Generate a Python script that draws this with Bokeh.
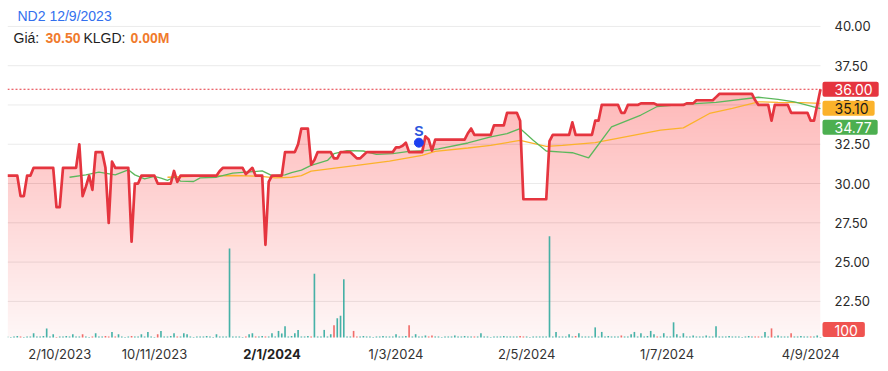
import numpy as np
from bokeh.plotting import figure
from bokeh.models import Range1d, Label
from bokeh.core.properties import value
from bokeh.embed import file_html
from bokeh.resources import INLINE

# ---------------- data ----------------
symbol = "ND2"
first_date = "12/9/2023"
first_price_text = "30.50"
first_volume_text = "0.00M"

# daily close, one value per trading day
price = [
    30.5, 30.5, 30.5, 30.5, 29.2, 29.2, 30.5, 30.5, 31.0, 31.0,
    31.0, 31.0, 31.0, 31.0, 31.0, 28.5, 28.5, 31.0, 31.0, 31.0,
    31.0, 31.0, 32.5, 29.2, 29.8, 30.5, 29.6, 32.0, 32.0, 32.0,
    31.0, 27.5, 31.4, 31.0, 31.0, 31.0, 31.0, 31.0, 26.3, 30.0,
    30.0, 30.5, 30.5, 30.5, 30.5, 30.5, 30.0, 30.0, 30.0, 30.0,
    30.0, 30.8, 30.1, 30.5, 30.5, 30.5, 30.5, 30.5, 30.5, 30.5,
    30.5, 30.5, 30.5, 30.5, 30.5, 30.8, 31.0, 31.0, 31.0, 31.0,
    31.0, 31.0, 31.0, 30.6, 30.8, 31.0, 30.5, 30.5, 30.5, 26.1,
    30.1, 30.5, 30.5, 30.5, 30.5, 32.0, 32.0, 32.0, 32.0, 32.5,
    33.5, 33.5, 33.5, 31.2, 31.5, 32.0, 32.0, 32.0, 32.0, 32.0,
    31.6, 31.6, 32.0, 32.0, 32.0, 32.0, 31.8, 31.6, 31.6, 31.8,
    32.0, 32.0, 32.0, 32.0, 32.0, 32.0, 32.0, 32.0, 32.0, 32.3,
    32.3, 32.4, 32.6, 32.0, 32.0, 32.0, 32.0, 32.0, 33.0, 32.8,
    32.1, 32.8, 32.8, 32.8, 32.8, 32.8, 32.8, 32.8, 32.8, 32.8,
    32.8, 33.2, 33.5, 33.1, 33.1, 33.1, 33.1, 33.1, 33.1, 33.7,
    33.7, 33.7, 33.7, 34.5, 34.5, 34.5, 34.5, 34.0, 29.0, 29.0,
    29.0, 29.0, 29.0, 29.0, 29.0, 29.0, 32.7, 33.1, 33.1, 33.1,
    33.1, 33.1, 33.1, 33.9, 33.1, 33.1, 33.1, 33.1, 33.1, 33.1,
    34.0, 34.0, 35.0, 35.0, 35.0, 35.0, 35.0, 35.0, 34.5, 34.5,
    35.0, 35.0, 35.0, 35.0, 35.1, 35.1, 35.1, 35.1, 35.1, 35.0,
    35.0, 35.0, 35.0, 35.0, 35.0, 35.0, 35.0, 35.0, 35.1, 35.1,
    35.1, 35.3, 35.3, 35.3, 35.3, 35.3, 35.3, 35.5, 35.7, 35.7,
    35.7, 35.7, 35.7, 35.7, 35.7, 35.7, 35.7, 35.7, 35.7, 35.3,
    35.0, 35.0, 35.0, 35.0, 34.0, 35.0, 35.0, 35.0, 35.0, 35.0,
    34.5, 34.5, 34.5, 34.5, 34.5, 34.5, 34.0, 34.0, 35.0, 36.0,
]

# daily volume (shares)
volume = [
    200, 100, 200, 300, 200, 100, 200, 200, 850, 200,
    200, 300, 1800, 200, 650, 100, 200, 200, 300, 200,
    650, 200, 200, 650, 200, 100, 200, 850, 200, 200,
    300, 200, 1100, 200, 650, 200, 100, 200, 300, 200,
    200, 650, 200, 1100, 200, 100, 650, 1300, 200, 200,
    300, 850, 200, 200, 850, 650, 200, 100, 200, 200,
    200, 300, 200, 100, 650, 200, 200, 200, 17600, 200,
    200, 200, 100, 200, 650, 850, 200, 200, 300, 200,
    200, 850, 200, 1300, 800, 2200, 200, 300, 850, 1500,
    200, 200, 300, 200, 12600, 200, 200, 1500, 200, 650,
    2400, 3800, 4300, 11500, 200, 200, 1300, 200, 200, 300,
    200, 200, 100, 200, 200, 300, 200, 200, 200, 650,
    200, 200, 300, 2400, 200, 650, 200, 200, 400, 200,
    400, 200, 200, 100, 200, 200, 200, 400, 200, 200,
    300, 200, 200, 200, 200, 850, 200, 200, 100, 200,
    200, 200, 300, 200, 200, 200, 200, 300, 200, 200,
    100, 200, 200, 200, 200, 200, 20000, 200, 1100, 200,
    200, 200, 650, 200, 300, 850, 200, 200, 200, 200,
    2000, 200, 1100, 200, 300, 200, 200, 200, 400, 200,
    200, 650, 1100, 200, 850, 200, 300, 1300, 650, 200,
    200, 850, 200, 200, 3000, 650, 200, 850, 200, 200,
    400, 200, 200, 200, 400, 200, 200, 2200, 200, 200,
    200, 300, 200, 200, 200, 100, 200, 300, 200, 200,
    200, 200, 1100, 200, 1800, 200, 400, 200, 200, 200,
    850, 200, 200, 300, 200, 200, 200, 200, 400, 100,
]

# moving averages (day index, value)
ma20_idx = [19, 24, 28, 33, 37, 39, 42, 45, 47, 49, 51, 53, 57, 59, 64, 69, 73, 78,
            81, 85, 87, 90, 93, 98, 100, 104, 109, 113, 118, 123, 128, 132, 141,
            148, 153, 157, 161, 165, 170, 173, 178, 185, 194, 199, 207, 217, 230,
            236, 241, 249]
ma20_val = [30.40, 30.55, 30.72, 30.55, 30.87, 30.55, 30.30, 30.45, 30.34, 30.20,
            30.40, 30.15, 30.13, 30.36, 30.40, 30.66, 30.72, 30.80, 30.50, 30.55,
            30.70, 30.85, 31.15, 31.47, 31.90, 32.10, 32.07, 31.86, 31.90, 32.05,
            32.10, 32.20, 32.58, 32.97, 33.18, 33.50, 32.75, 32.07, 32.00, 31.96,
            31.64, 33.60, 34.36, 34.90, 35.04, 35.17, 35.49, 35.36, 35.20, 34.77]

ma50_idx = [49, 59, 69, 77, 82, 87, 90, 93, 107, 117, 127, 131, 141, 148, 157, 165,
            170, 180, 190, 200, 207, 215, 222, 230, 236, 243, 249]
ma50_val = [30.40, 30.47, 30.51, 30.47, 30.36, 30.40, 30.50, 30.79, 31.15, 31.43,
            31.79, 32.05, 32.26, 32.43, 32.75, 32.37, 32.43, 32.60, 33.00, 33.40,
            33.54, 34.46, 34.78, 35.20, 35.17, 35.15, 35.10]

# sell signal
signal_idx = [126]
signal_price = [32.6]
signal_text = ["S"]

# x axis
tick_idx = [16, 45, 81, 119, 159, 202, 246]
tick_labels = ["2/10/2023", "10/11/2023", "2/1/2024", "1/3/2024", "2/5/2024", "1/7/2024", "4/9/2024"]
tick_bold = [False, False, True, False, False, False, False]

y_ticks = [22.5, 25.0, 27.5, 30.0, 32.5, 35.0, 37.5, 40.0]

# ---------------- styling / layout ----------------
RED = "#e5353f"
TEAL = "#26a69a"
VOLRED = "#ef5350"
GREEN = "#5cb85c"
BADGE_GREEN = "#4caf50"
ORANGE = "#fbb22b"
AX_FONT = "Inter"
HDR_FONT = "Liberation Sans"

N = len(price)
idx = list(range(N))
price_arr = np.array(price, dtype=float)

DATA_W, DATA_H = 813, 329          # pixel size of the chart area
FULL_W, FULL_H = 873, 355          # frame incl. price-scale and date-label areas
Y_DLO, Y_HI = 20.2, 41.14          # values at bottom / top of the chart area
PPU = DATA_H / (Y_HI - Y_DLO)      # pixels per price unit
Y_FLO = Y_HI - FULL_H / PPU
X_HI = (N - 1) * FULL_W / DATA_W
VOL_TOP = 65000.0
VPP = VOL_TOP / DATA_H

p = figure(frame_width=FULL_W, frame_height=FULL_H,
           x_range=Range1d(0, X_HI), y_range=Range1d(Y_FLO, Y_HI),
           x_axis_location=None, y_axis_location=None,
           output_backend="svg", toolbar_location=None,
           min_border_left=7, min_border_top=8, min_border_right=0, min_border_bottom=0)
p.outline_line_color = None
p.background_fill_color = "white"
p.border_fill_color = "white"
p.grid.visible = False
p.extra_y_ranges = {"vol": Range1d(-(FULL_H - DATA_H) * VPP, VOL_TOP)}

# horizontal grid lines
p.segment(x0=[0] * len(y_ticks), x1=[N - 1] * len(y_ticks), y0=y_ticks, y1=y_ticks,
          line_color="#ebebeb", line_width=1, level="underlay")

# price scale labels (right) - drawn underneath the value badges
p.text(x=[N - 1] * len(y_ticks), y=y_ticks, text=[f"{t:.2f}" for t in y_ticks],
       x_offset=14, text_align="left", text_baseline="middle",
       text_font=value(AX_FONT), text_font_size="13px", text_color="#2a2a2a",
       level="underlay")

# gradient area under the price line (stacked translucent layers)
base_alpha, top_alpha = 0.04, 0.32
p.varea(x=idx, y1=Y_DLO, y2=price, fill_color=RED, fill_alpha=base_alpha)
levels = np.arange(Y_DLO, price_arr.max(), 0.25)
d_alpha = 1 - ((1 - top_alpha) / (1 - base_alpha)) ** (1.0 / len(levels))
for a in levels:
    p.varea(x=idx, y1=float(a), y2=np.maximum(price_arr, a), fill_color=RED, fill_alpha=d_alpha)

# volume bars
vol_colors = [TEAL] + [TEAL if price[i] >= price[i - 1] else VOLRED for i in range(1, N)]
p.vbar(x=idx, top=volume, bottom=0, width=0.5, y_range_name="vol",
       fill_color=vol_colors, line_color=None, fill_alpha=0.85)

# moving averages
p.line(ma50_idx, ma50_val, line_color=ORANGE, line_width=1.3)
p.line(ma20_idx, ma20_val, line_color=GREEN, line_width=1.3)

# price line
p.line(idx, price, line_color=RED, line_width=2.7, line_join="round")

# last price dotted line
p.segment(x0=[0], x1=[N - 1], y0=[price[-1]], y1=[price[-1]], line_color=RED,
          line_dash="2 2", line_width=1)

# signal
p.scatter(signal_idx, signal_price, size=9, color="#1d3ff0")
p.text(signal_idx, signal_price, text=signal_text, y_offset=-12, text_align="center",
       text_baseline="middle", text_font=value("Liberation Sans"), text_font_size="14px",
       text_font_style="bold", text_color="#2c55dc")

# date labels (bottom)
for bold in (False, True):
    xs = [t for t, b in zip(tick_idx, tick_bold) if b == bold]
    ls = [l for l, b in zip(tick_labels, tick_bold) if b == bold]
    p.text(x=xs, y=[Y_DLO] * len(xs), text=ls, y_offset=16, text_align="center",
           text_baseline="middle", text_font=value(AX_FONT), text_font_size="13px",
           text_font_style="bold" if bold else "normal",
           text_color="#222222" if bold else "#333333")

# right-side value badges (stacked so they do not overlap)
badges = [(price[-1], RED, "white"), (ma50_val[-1], ORANGE, "#1a1a1a"),
          (ma20_val[-1], BADGE_GREEN, "white")]
prev = None
for val, bg, fg in badges:
    natural = (Y_HI - val) * PPU
    pos = natural if prev is None else max(natural, prev + 19)
    prev = pos
    p.text(x=[N - 1], y=[val], text=[f"{val:.2f}"], x_offset=2, y_offset=pos - natural,
           text_align="left", text_baseline="middle", text_font=value(AX_FONT),
           text_font_size="14px", text_color=fg, background_fill_color=bg,
           padding=dict(left=12, right=6, top=2, bottom=2), border_radius=2)

p.text(x=[N - 1], y=[volume[-1]], y_range_name="vol", text=[f"{volume[-1]}"], x_offset=2,
       text_align="left", text_baseline="bottom", text_font=value(AX_FONT),
       text_font_size="14px", text_color="white", background_fill_color=VOLRED,
       padding=dict(left=12, right=7, top=3, bottom=1), border_radius=2)

# header
p.add_layout(Label(x=0, y=Y_HI, x_offset=10, y_offset=-7, text=f"{symbol} {first_date}",
                   text_baseline="middle", text_font=HDR_FONT, text_font_size="14px",
                   text_color="#3370ee"))
hdr2 = [("Giá:", 6, "#1e1e1e", "normal"), (first_price_text, 38, "#f07a2c", "bold"),
        ("KLGD:", 76, "#1e1e1e", "normal"), (first_volume_text, 123, "#f07a2c", "bold")]
for txt, off, col, sty in hdr2:
    p.add_layout(Label(x=0, y=Y_HI, x_offset=off, y_offset=-29, text=txt,
                       text_baseline="middle", text_font=HDR_FONT, text_font_size="14px",
                       text_color=col, text_font_style=sty))

open("out.html", "w").write(file_html(p, INLINE))
